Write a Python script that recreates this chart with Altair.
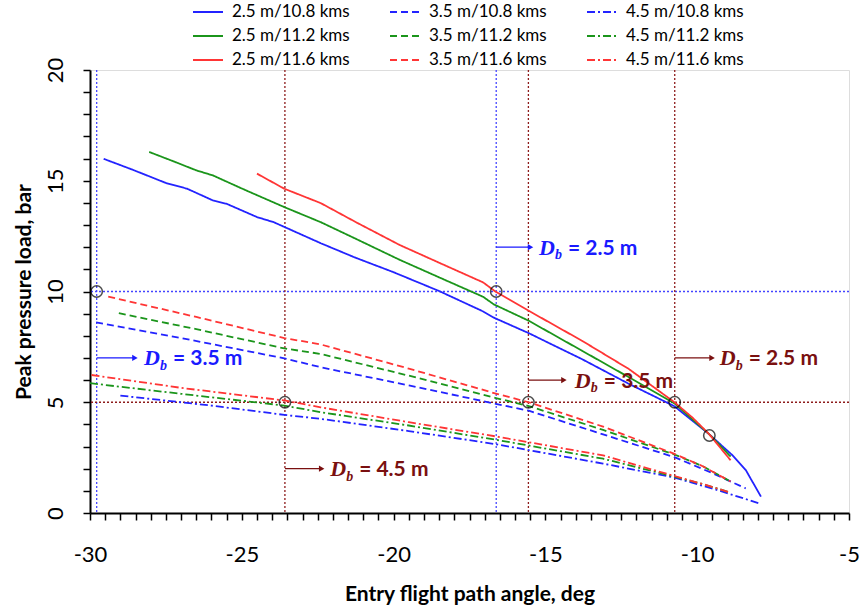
import altair as alt
import pandas as pd

# ---------------- data ----------------
# 2.5 m curves (solid)
x_25_108 = [-29.55, -28.6, -27.5, -26.8, -25.95, -25.5, -24.5, -23.95, -22.4, -21.3, -20.0, -18.5, -17.05, -16.7, -15.55, -13.8, -12.25, -10.75, -9.6, -8.85, -8.4, -7.9]
y_25_108 = [15.99, 15.50, 14.90, 14.64, 14.11, 13.96, 13.36, 13.13, 12.18, 11.55, 10.87, 10.02, 9.10, 8.82, 8.12, 6.95, 5.83, 4.82, 3.55, 2.62, 1.94, 0.74]
x_25_112 = [-28.05, -27.2, -26.5, -25.95, -25.0, -23.6, -22.4, -21.2, -19.8, -18.47, -17.05, -16.7, -15.55, -13.8, -12.25, -10.75, -9.6, -8.9]
y_25_112 = [16.30, 15.85, 15.47, 15.24, 14.65, 13.81, 13.13, 12.35, 11.43, 10.62, 9.76, 9.42, 8.68, 7.33, 6.13, 4.95, 3.55, 2.55]
x_25_116 = [-24.5, -23.6, -22.4, -21.2, -19.8, -18.47, -17.05, -16.65, -15.55, -13.8, -12.25, -10.75, -10.15, -9.6, -8.9]
y_25_116 = [15.32, 14.64, 13.99, 13.10, 12.10, 11.28, 10.41, 10.0, 9.13, 7.78, 6.50, 5.0, 4.3, 3.55, 2.38]
# 3.5 m curves (dashed)
x_35_108 = [-29.8, -27.0, -23.6, -22.4, -19.5, -16.6, -15.55, -13.1, -10.75, -9.5, -8.4]
y_35_108 = [8.61, 7.90, 6.98, 6.58, 5.76, 4.92, 4.62, 3.55, 2.52, 1.80, 1.11]
x_35_112 = [-29.05, -26.5, -23.6, -22.4, -19.5, -16.6, -15.55, -13.1, -10.75, -9.8, -8.9]
y_35_112 = [9.02, 8.30, 7.43, 7.18, 6.20, 5.18, 4.83, 3.75, 2.64, 2.10, 1.42]
x_35_116 = [-29.4, -26.5, -23.6, -22.4, -19.5, -16.6, -15.55, -13.1, -10.75, -9.8, -8.9]
y_35_116 = [9.77, 8.85, 7.90, 7.61, 6.52, 5.38, 5.0, 3.90, 2.67, 2.10, 1.42]
# 4.5 m curves (dash-dot)
x_45_108 = [-29.0, -26.0, -23.6, -22.4, -19.5, -16.6, -13.1, -10.75, -9.3, -7.9]
y_45_108 = [5.30, 4.85, 4.43, 4.25, 3.70, 3.10, 2.23, 1.60, 1.02, 0.41]
x_45_112 = [-30.0, -27.0, -23.6, -22.4, -19.5, -16.6, -13.1, -10.75, -9.8, -8.9]
y_45_112 = [5.86, 5.38, 4.85, 4.55, 3.95, 3.30, 2.45, 1.64, 1.30, 0.92]
x_45_116 = [-29.95, -27.0, -23.6, -22.4, -19.5, -16.6, -13.1, -10.75, -9.8, -8.9]
y_45_116 = [6.23, 5.65, 5.08, 4.77, 4.10, 3.45, 2.60, 1.67, 1.30, 0.92]

# legend order (filled column by column: 2.5 m, then 3.5 m, then 4.5 m)
series_names = ["2.5 m/10.8 kms", "2.5 m/11.2 kms", "2.5 m/11.6 kms",
                "3.5 m/10.8 kms", "3.5 m/11.2 kms", "3.5 m/11.6 kms",
                "4.5 m/10.8 kms", "4.5 m/11.2 kms", "4.5 m/11.6 kms"]
series_x = [x_25_108, x_25_112, x_25_116, x_35_108, x_35_112, x_35_116, x_45_108, x_45_112, x_45_116]
series_y = [y_25_108, y_25_112, y_25_116, y_35_108, y_35_112, y_35_116, y_45_108, y_45_112, y_45_116]

BLUE, GREEN, RED = "#2323ff", "#1b951b", "#ff3535"
series_colors = [BLUE, GREEN, RED] * 3
SOLID, DASH, DASHDOT = [1, 0], [7, 4], [8, 3, 2, 3]
series_dash = [SOLID] * 3 + [DASH] * 3 + [DASHDOT] * 3

# reference limit lines
blue_h = [10]
blue_v = [-29.78, -16.62]
dred_h = [5]
dred_v = [-23.58, -15.56, -10.74]
# marked points
circ_x = [-29.78, -16.62, -23.58, -15.56, -10.74, -9.6]
circ_y = [10, 10, 5, 5, 5, 3.5]

# annotations: arrow start, arrow end, y, text start, label
ann_blue_x0 = [-16.62, -29.78]
ann_blue_x1 = [-15.49, -28.52]
ann_blue_y = [12, 7]
ann_blue_tx = [-15.21, -28.22]
ann_blue_lab = ["= 2.5 m", "= 3.5 m"]
ann_red_x0 = [-15.56, -10.74, -23.58]
ann_red_x1 = [-14.39, -9.51, -22.37]
ann_red_y = [6, 7, 2]
ann_red_tx = [-14.03, -9.26, -22.09]
ann_red_lab = ["= 3.5 m", "= 2.5 m", "= 4.5 m"]

x_ticks = [-30 + 0.5 * i for i in range(51)]
y_ticks = list(range(0, 21))

# ---------------- build ----------------
rows = []
for name, xs, ys in zip(series_names, series_x, series_y):
    for i, (xv, yv) in enumerate(zip(xs, ys)):
        rows.append({"series": name, "x": xv, "y": yv, "i": i})
curves = pd.DataFrame(rows)

XS = alt.Scale(domain=[-30, -5], nice=False, zero=False)
YS = alt.Scale(domain=[0, 20], nice=False, zero=False)

LBL = "abs(datum.value % 5) < 0.001 ? toString(datum.value) : ''"

x_axis = alt.Axis(values=x_ticks, labelExpr=LBL,
                  labelOverlap=False, labelFlush=False, grid=False, tickSize=7, tickWidth=1.5,
                  tickColor="black", domainColor="black", domainWidth=2, labelFont="Lato",
                  labelFontSize=22, labelColor="black", labelPadding=24, labelBaseline="top",
                  title="Entry flight path angle, deg", titleFont="Lato", titleFontSize=21,
                  titleFontWeight="bold", titleColor="black", titleY=87, titleBaseline="alphabetic")
y_axis = alt.Axis(values=y_ticks, labelExpr=LBL,
                  labelOverlap=False, labelFlush=False, grid=False, tickSize=7, tickWidth=1.5,
                  tickColor="black", domainColor="black", domainWidth=2, labelFont="Lato",
                  labelFontSize=22, labelColor="black", labelPadding=21, labelAngle=-90,
                  labelAlign="center", labelBaseline="alphabetic",
                  title="Peak pressure load, bar", titleFont="Lato", titleFontSize=21,
                  titleFontWeight="bold", titleColor="black", titleX=-60, titleBaseline="alphabetic")

def X(f):
    return alt.X(f, type="quantitative", scale=XS, axis=x_axis)

def Y(f):
    return alt.Y(f, type="quantitative", scale=YS, axis=y_axis)

legend = alt.Legend(orient="none", legendX=102, legendY=-74, columns=3, title=None,
                    values=series_names,
                    symbolType="stroke", symbolSize=900, symbolStrokeWidth=2,
                    labelFont="Lato", labelFontSize=17, labelColor="black", labelOffset=8,
                    columnPadding=36, rowPadding=-10, padding=0, labelLimit=300)

lines = alt.Chart(curves).mark_line(strokeWidth=1.8, clip=True).encode(
    x=X("x"),
    y=Y("y"),
    color=alt.Color("series:N", scale=alt.Scale(domain=series_names, range=series_colors), legend=legend),
    strokeDash=alt.StrokeDash("series:N", scale=alt.Scale(domain=series_names, range=series_dash), legend=legend),
    order="i:Q",
)

def hline(vals, color):
    return alt.Chart(pd.DataFrame({"y": vals})).mark_rule(color=color, strokeWidth=1.3, strokeDash=[2, 2]).encode(y=Y("y"))

def vline(vals, color):
    return alt.Chart(pd.DataFrame({"x": vals})).mark_rule(color=color, strokeWidth=1.3, strokeDash=[2, 2]).encode(x=X("x"))

REFBLUE = "#4545ff"
DRED = "#8e1c1c"
TXTRED = "#7a1010"

refs = [hline(blue_h, REFBLUE), vline(blue_v, REFBLUE), hline(dred_h, DRED), vline(dred_v, DRED)]

circles = alt.Chart(pd.DataFrame({"x": circ_x, "y": circ_y})).mark_point(
    shape="circle", size=130, color="black", strokeWidth=1.5, filled=False).encode(x=X("x"), y=Y("y"))

def ann_layers(x0, x1, ay, tx, lab, color):
    df = pd.DataFrame({"x0": x0, "x1": x1, "ay": ay, "tx": tx, "label": lab})
    base = alt.Chart(df)
    rule = base.mark_rule(color=color, strokeWidth=1.3).encode(x=X("x0"), x2="x1:Q", y=Y("ay"))
    head = base.mark_point(shape="triangle-right", filled=True, size=40, color=color, opacity=1).encode(x=X("x1"), y=Y("ay"))
    d = base.mark_text(text="D", font="Liberation Serif", fontStyle="italic", fontWeight="bold",
                       fontSize=22, align="left", baseline="alphabetic", dy=7.5, color=color).encode(x=X("tx"), y=Y("ay"))
    b = base.mark_text(text="b", font="Liberation Serif", fontStyle="italic", fontWeight="bold",
                       fontSize=14, align="left", baseline="alphabetic", dx=16, dy=12, color=color).encode(x=X("tx"), y=Y("ay"))
    rest = base.mark_text(font="Lato", fontWeight="bold", fontSize=21, align="left", baseline="alphabetic",
                          dx=29, dy=7.5, color=color).encode(x=X("tx"), y=Y("ay"), text="label:N")
    return [rule, head, d, b, rest]

layers = refs + [lines, circles] + ann_layers(ann_blue_x0, ann_blue_x1, ann_blue_y, ann_blue_tx, ann_blue_lab, "#1a1aff") \
    + ann_layers(ann_red_x0, ann_red_x1, ann_red_y, ann_red_tx, ann_red_lab, TXTRED)

chart = alt.layer(*layers).properties(
    width=759, height=443,
    autosize=alt.AutoSizeParams(type="none"),
    padding={"left": 90, "top": 70, "right": 11, "bottom": 99},
    background="white",
).configure_view(stroke="#8c8c8c", strokeWidth=2).configure_axis(
    labelOverlap=False, labelFlush=False
).configure_axisY(labelAngle=-90, labelAlign="center", labelBaseline="alphabetic").configure(font="Lato")

chart.save("out.html", embed_options={"renderer": "svg", "actions": False})
